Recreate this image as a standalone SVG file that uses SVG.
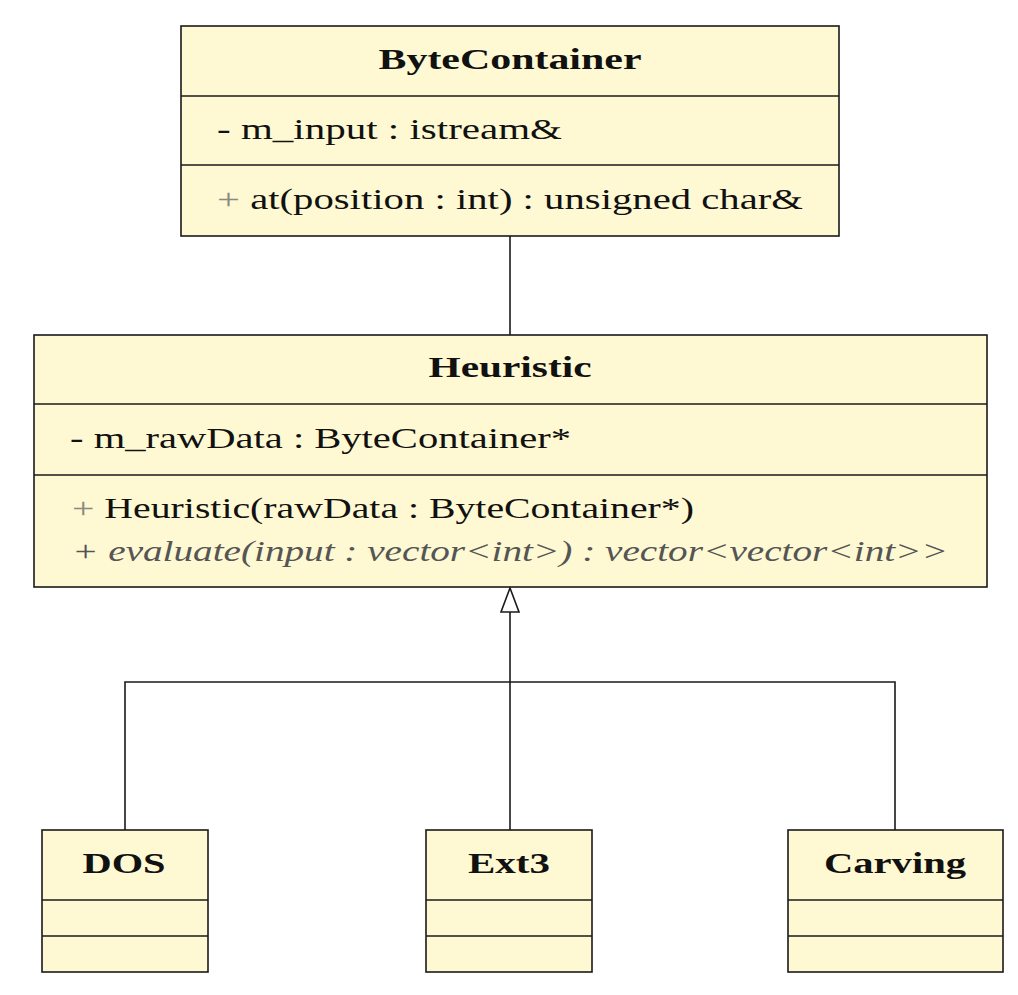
<svg xmlns="http://www.w3.org/2000/svg" width="1018" height="995" viewBox="0 0 1018 995">
<style>
.box{fill:#fef9d2;stroke:#1a1a1a;stroke-width:1.6}
.ln{stroke:#1a1a1a;stroke-width:1.6;fill:none}
text{font-family:"Liberation Serif","DejaVu Serif",serif;font-size:30px;fill:#111}
.t{font-weight:bold;text-anchor:middle}
.g{fill:#8a8a80}
.i{font-style:italic;fill:#555}
</style>
<defs>
<marker id="tri" markerWidth="20" markerHeight="26" refX="10" refY="1" orient="auto" markerUnits="userSpaceOnUse" viewBox="0 0 20 26">
<path d="M10,1 L19,25 L1,25 Z" fill="#fff" stroke="#1a1a1a" stroke-width="1.6"/>
</marker>
</defs>
<rect width="1018" height="995" fill="#fff"/>
<g id="connectors">
<line class="ln" x1="510" y1="236" x2="510" y2="335"/>
<path class="ln" d="M125,830 V682 H895 V830"/>
<line class="ln" x1="510" y1="830" x2="510" y2="612"/>
<path d="M510,588 L519,612 L501,612 Z" fill="#fff" stroke="#1a1a1a" stroke-width="1.6"/>
</g>
<g id="ByteContainer">
<rect class="box" x="181" y="26" width="658" height="210"/>
<line class="ln" x1="181" y1="96" x2="839" y2="96"/>
<line class="ln" x1="181" y1="165" x2="839" y2="165"/>
<text class="t" x="510" y="69" textLength="263" lengthAdjust="spacingAndGlyphs">ByteContainer</text>
<text x="217" y="139" textLength="345" lengthAdjust="spacingAndGlyphs">- m_input : istream&amp;</text>
<text x="217" y="209" textLength="586" lengthAdjust="spacingAndGlyphs"><tspan class="g">+</tspan> at(position : int) : unsigned char&amp;</text>
</g>
<g id="Heuristic">
<rect class="box" x="34" y="335" width="953" height="252"/>
<line class="ln" x1="34" y1="404" x2="987" y2="404"/>
<line class="ln" x1="34" y1="475" x2="987" y2="475"/>
<text class="t" x="510" y="377" textLength="163" lengthAdjust="spacingAndGlyphs">Heuristic</text>
<text x="70" y="448" textLength="501" lengthAdjust="spacingAndGlyphs">- m_rawData : ByteContainer*</text>
<text x="72" y="518" textLength="622" lengthAdjust="spacingAndGlyphs"><tspan class="g">+</tspan> Heuristic(rawData : ByteContainer*)</text>
<text class="i" x="72" y="561" textLength="876" lengthAdjust="spacingAndGlyphs">+ evaluate(input : vector&lt;int&gt;) : vector&lt;vector&lt;int&gt;&gt;</text>
</g>
<g id="DOS">
<rect class="box" x="42" y="830" width="166" height="142"/>
<line class="ln" x1="42" y1="900" x2="208" y2="900"/>
<line class="ln" x1="42" y1="936" x2="208" y2="936"/>
<text class="t" x="124" y="873" textLength="83" lengthAdjust="spacingAndGlyphs">DOS</text>
</g>
<g id="Ext3">
<rect class="box" x="426" y="830" width="166" height="142"/>
<line class="ln" x1="426" y1="900" x2="592" y2="900"/>
<line class="ln" x1="426" y1="936" x2="592" y2="936"/>
<text class="t" x="509" y="873" textLength="82" lengthAdjust="spacingAndGlyphs">Ext3</text>
</g>
<g id="Carving">
<rect class="box" x="788" y="830" width="215" height="142"/>
<line class="ln" x1="788" y1="900" x2="1003" y2="900"/>
<line class="ln" x1="788" y1="936" x2="1003" y2="936"/>
<text class="t" x="895" y="873" textLength="142" lengthAdjust="spacingAndGlyphs">Carving</text>
</g>
</svg>
